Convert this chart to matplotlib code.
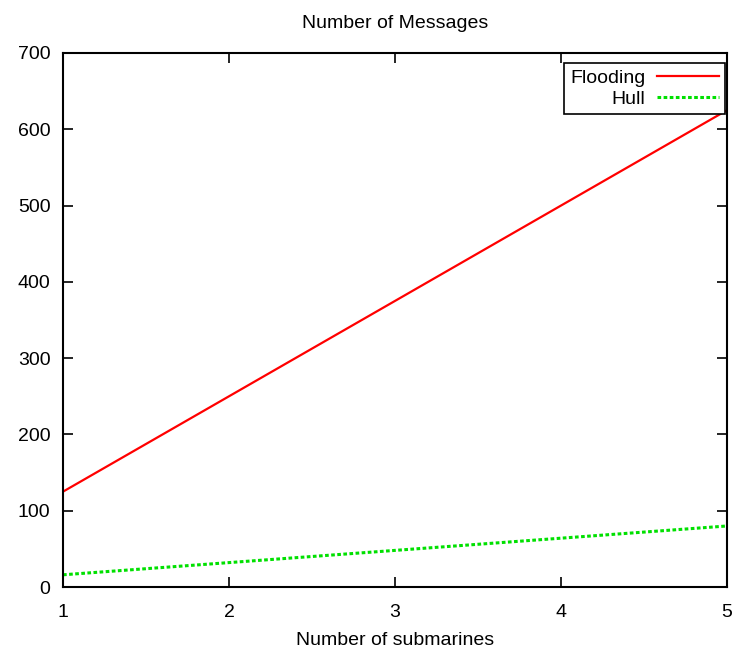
import matplotlib
matplotlib.use("Agg")
import matplotlib.pyplot as plt

# data
submarines = [1, 2, 3, 4, 5]
flooding = [125, 250, 375, 500, 625]
hull = [16, 32, 48, 64, 80]

plt.rcParams['font.family'] = ['Liberation Sans', 'DejaVu Sans']

fig = plt.figure(figsize=(7.37, 6.51), dpi=100)
ax = fig.add_axes([0.0855, 0.0983, 0.9009, 0.8203])

ax.plot(submarines, flooding, color='#ff0000', linewidth=1.6, label='Flooding')
ax.plot(submarines, hull, color='#00e000', linewidth=2.2, linestyle=(0, (1.2, 0.8)), label='Hull')

ax.set_xlim(1, 5)
ax.set_ylim(0, 700)
ax.set_xticks(submarines)
ax.set_yticks(range(0, 701, 100))
ax.tick_params(direction='in', top=True, right=True, length=7, width=1.2, labelsize=14)
ax.tick_params(axis='x', pad=12)
ax.tick_params(axis='y', pad=9)
for s in ax.spines.values():
    s.set_linewidth(1.5)

ax.set_title('Number of Messages', fontsize=14, pad=18)
ax.set_xlabel('Number of submarines', fontsize=14, labelpad=8)

leg = ax.legend(loc='upper right', markerfirst=False, fancybox=False, framealpha=1,
                edgecolor='black', fontsize=14, handlelength=3.2, handletextpad=0.6,
                borderpad=0.3, labelspacing=0.2, borderaxespad=0,
                bbox_to_anchor=(0.997, 0.981))
leg.get_frame().set_linewidth(1.2)
for t in leg.get_texts():
    t.set_ha('right')

fig.savefig('out.png', dpi=100)
